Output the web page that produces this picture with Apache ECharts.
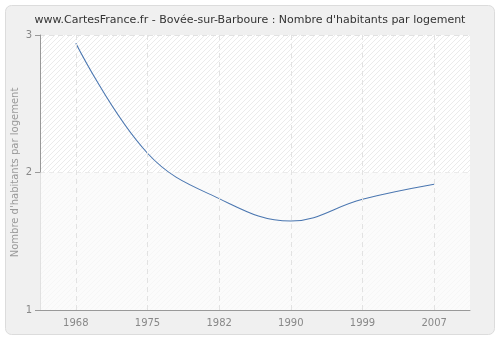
<!DOCTYPE html>
<html><head><meta charset="utf-8">
<script src="https://cdn.jsdelivr.net/npm/echarts@6/dist/echarts.min.js"></script>
<style>html,body{margin:0;padding:0;background:#fff}#c{width:500px;height:340px}</style>
</head><body><div id="c"></div>
<script>
var years = ['1968','1975','1982','1990','1999','2007'];
var values = [2.94, 2.14, 1.81, 1.647, 1.805, 1.914];
var yTicks = [1, 2, 3];
var titleText = "www.CartesFrance.fr - Bovée-sur-Barboure : Nombre d'habitants par logement";
var yName = "Nombre d'habitants par logement";

function hatch(lineColor) {
  var s = 5;
  var c = document.createElement('canvas');
  c.width = s; c.height = s;
  var g = c.getContext('2d');
  g.fillStyle = '#ffffff'; g.fillRect(0, 0, s, s);
  g.strokeStyle = lineColor; g.lineWidth = 1;
  g.beginPath();
  g.moveTo(0, s); g.lineTo(s, 0);
  g.moveTo(-s, s); g.lineTo(s, -s);
  g.moveTo(0, 2 * s); g.lineTo(2 * s, 0);
  g.stroke();
  return c;
}

var chart = echarts.init(document.getElementById('c'), null, {renderer: 'canvas'});
chart.setOption({
  backgroundColor: '#ffffff',
  animation: false,
  graphic: [{
    type: 'rect', z: -10, silent: true,
    shape: {x: 5.5, y: 5.5, width: 489, height: 329, r: 6},
    style: {fill: '#f0f0f0', stroke: '#dcdcdc', lineWidth: 1}
  }],
  title: {
    text: titleText, left: 'center', top: 10,
    textStyle: {fontFamily: 'DejaVu Sans', fontSize: 11, fontWeight: 'normal', color: '#333'}
  },
  grid: {left: 40, right: 30, top: 35, bottom: 30, show: true,
    outerBoundsMode: 'none', containLabel: false,
    backgroundColor: {image: hatch('#ebebeb'), repeat: 'repeat'},
    borderColor: '#e4e4e4', borderWidth: 0},
  xAxis: {
    type: 'category', data: years, boundaryGap: true,
    axisLine: {lineStyle: {color: '#999'}},
    axisTick: {alignWithLabel: true, length: 5, lineStyle: {color: '#999'}},
    axisLabel: {color: '#888', fontFamily: 'DejaVu Sans', fontSize: 10, margin: 8},
    splitLine: {show: false}
  },
  yAxis: {
    type: 'value', min: 1, max: 3, interval: 1,
    name: yName, nameLocation: 'middle', nameGap: 20, nameMoveOverlap: false,
    nameTextStyle: {color: '#999', fontFamily: 'DejaVu Sans', fontSize: 10},
    axisLine: {show: true, lineStyle: {color: '#999'}},
    axisTick: {show: true, length: 5, lineStyle: {color: '#999'}},
    axisLabel: {color: '#888', fontFamily: 'DejaVu Sans', fontSize: 10, margin: 8},
    splitLine: {show: true, lineStyle: {color: '#e2e2e2', type: [5, 4]}}
  },
  series: [{
    type: 'line', data: values, smooth: 0.4, showSymbol: false,
    lineStyle: {color: '#4a76b0', width: 1.1},
    markArea: {silent: true, itemStyle: {color: 'rgba(250,250,250,0.75)'},
      data: [[{yAxis: 1}, {yAxis: 2}]]},
    markLine: {silent: true, symbol: 'none', label: {show: false},
      lineStyle: {color: '#e2e2e2', type: [5, 4], width: 1},
      data: years.map(function (y) { return {xAxis: y}; })}
  }]
});
</script></body></html>
